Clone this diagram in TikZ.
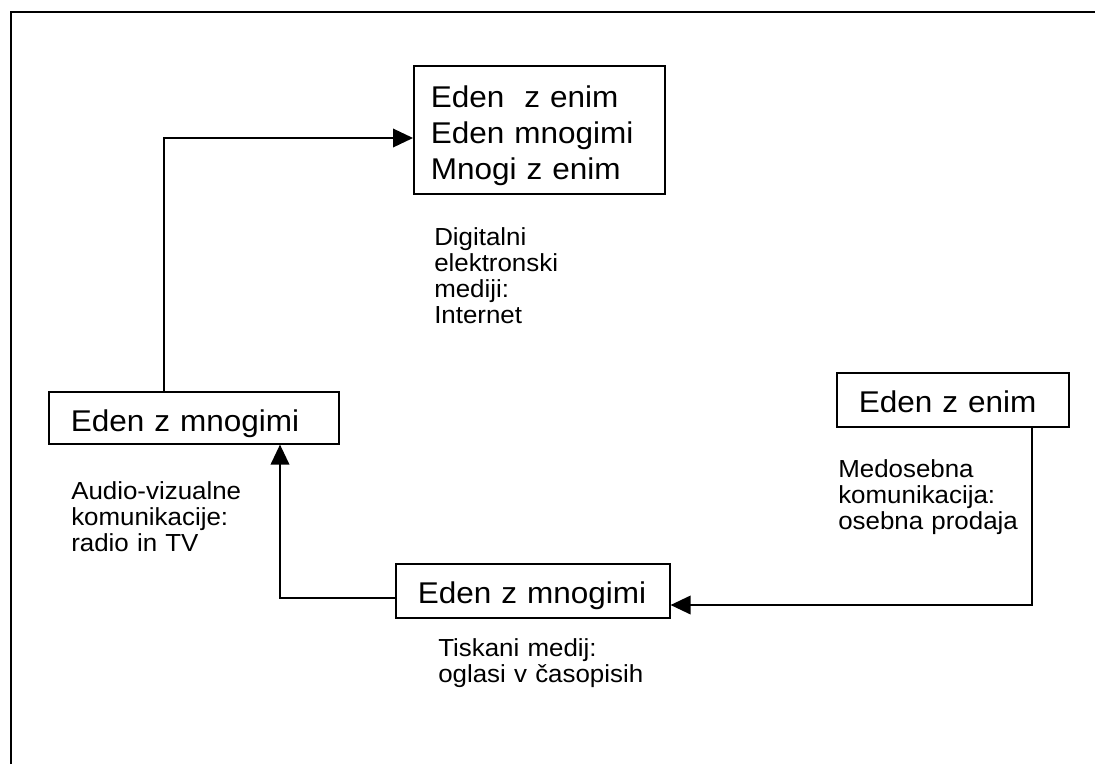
\documentclass[tikz,border=0pt]{standalone}
\usepackage{fontspec}
\setmainfont{Liberation Sans}
\newfontfamily\okvirfont[FakeStretch=1.05]{Liberation Sans}
\usetikzlibrary{arrows.meta}
\tikzset{
  okvir/.style={draw, line width=1.2pt, anchor=north west, inner xsep=16.5pt, inner ysep=0pt,
    align=left, text height=30pt, font=\okvirfont\fontsize{22.5}{27}\selectfont},
  opis/.style={anchor=base west, inner sep=0pt, align=left, text width=250pt,
    font=\okvirfont\fontsize{18.5}{19.5}\selectfont},
  puscica/.style={line width=1.1pt, -{Triangle[length=15pt,width=14pt]}}
}
\begin{document}
\begin{tikzpicture}[x=0.75pt,y=-0.75pt]
    \useasboundingbox (0,0) rectangle (1095,764);
    \draw [line width=1.5pt] (11,764) -- (11,12) -- (1095,12);
    \node [okvir, inner xsep=12.75pt, text width=162.75pt, text height=31.5pt, text depth=64.5pt] (vsi) at (413,65) {Eden\ \ z~enim\\Eden~mnogimi\\Mnogi~z~enim};
    \node [okvir, text width=184.5pt, text depth=9pt] (avdio) at (48,391) {Eden~z~mnogimi};
    \node [okvir, text width=172.5pt, text depth=10.5pt] (tisk) at (395,563) {Eden~z~mnogimi};
    \node [okvir, text width=141pt, text depth=10.5pt] (osebno) at (836,372) {Eden~z~enim};
    \node [opis] (digiopis) at (434,245) {Digitalni\\elektronski\\mediji:\\Internet};
    \node [opis] (avopis) at (71,499) {Audio-vizualne\\komunikacije:\\radio in TV};
    \node [opis] (medopis) at (838,477) {Medosebna\\komunikacija:\\osebna prodaja};
    \node [opis] (tiskopis) at (438,656) {Tiskani medij:\\oglasi v časopisih};
    \coordinate (k1) at (164,138);
    \coordinate (k2) at (280,598);
    \coordinate (k3) at (1032,605);
    \draw [puscica] (avdio.north -| k1) |- (vsi.west |- k1);
    \draw [puscica] (tisk.west |- k2) -| (avdio.south -| k2);
    \draw [puscica] (osebno.south -| k3) |- (tisk.east |- k3);
\end{tikzpicture}
\end{document}
